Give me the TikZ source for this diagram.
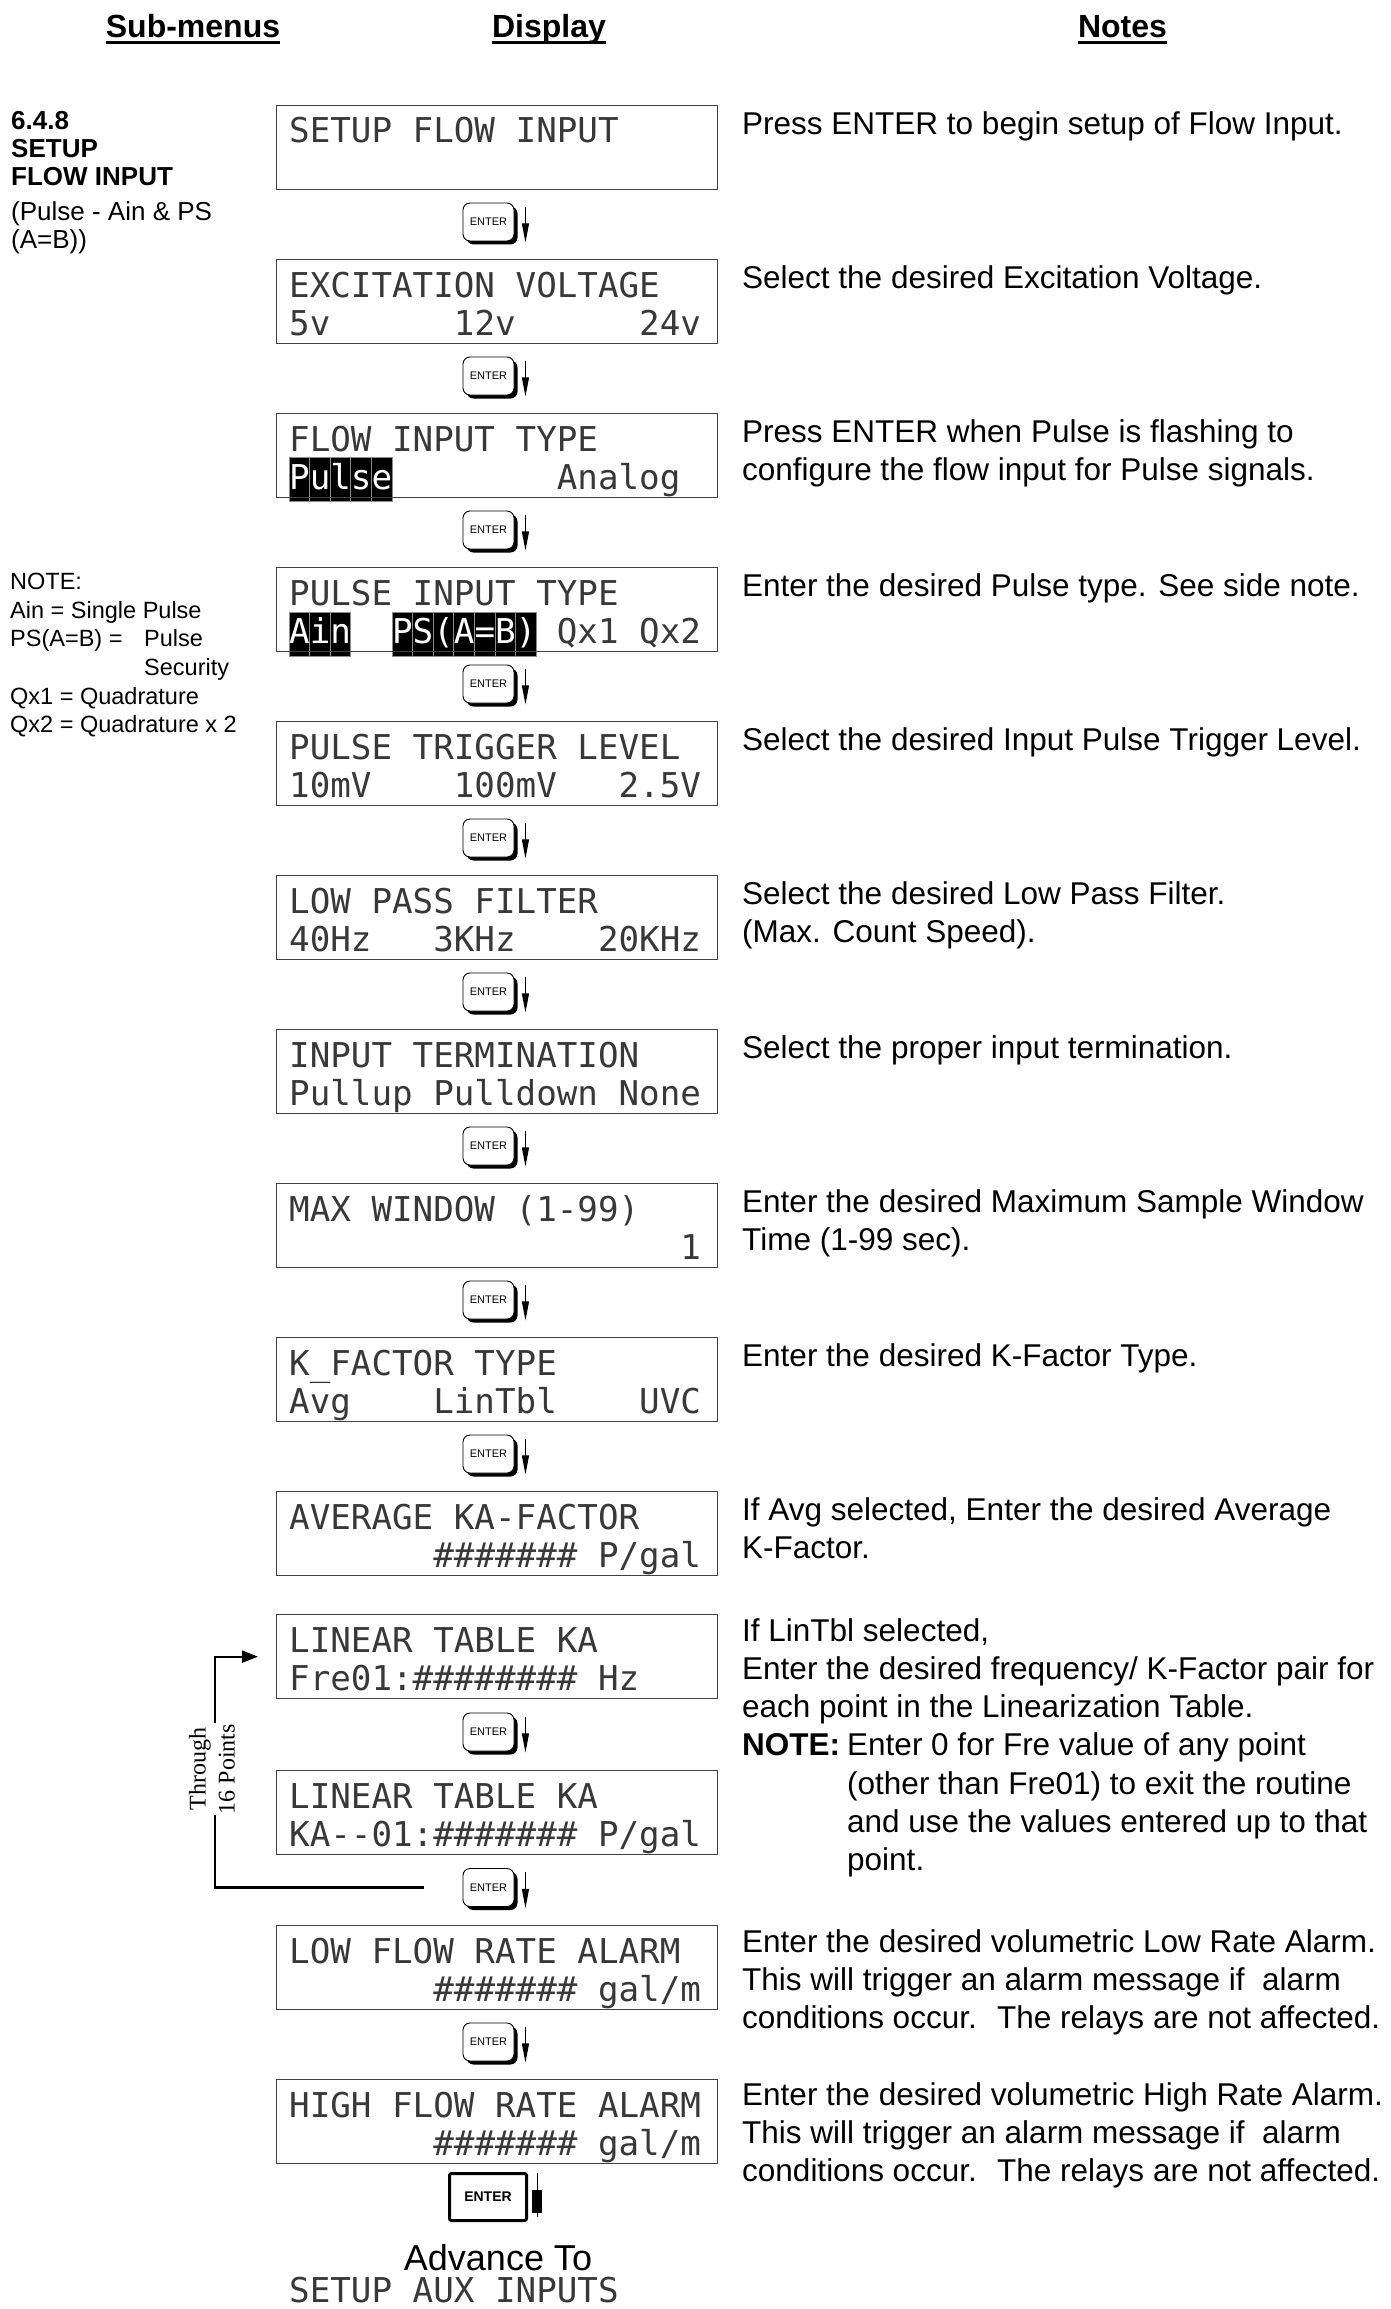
\documentclass[tikz,border=0pt]{standalone}
\usepackage{fontspec}
\setmainfont{Liberation Sans}
\newfontfamily\lcdfont{DejaVu Sans Mono}
\newfontfamily\pointsfont{Liberation Serif}
\usetikzlibrary{arrows.meta,shadows}

\tikzset{
  screen/.style={draw=black!75, line width=1.3pt, anchor=north west,
                 minimum width=441pt, minimum height=84pt, inner sep=0pt},
  lcd/.style={anchor=base west, inner sep=0pt, text=black!78,
              font=\lcdfont\fontsize{34.2}{38}\selectfont},
  cell/.style={fill=black, draw=black!45, line width=0.8pt},
  key/.style={draw, fill=white, line width=0.9pt, rounded corners=7pt,
              minimum width=51pt, minimum height=38pt, inner sep=0pt,
              font=\fontsize{11}{11}\selectfont,
              general shadow={fill=black, shadow xshift=3.5pt, shadow yshift=-3.5pt}},
  keyarrow/.style={line width=1.1pt, -{Triangle[length=19pt,width=7pt]}},
  backarrow/.style={line width=2.2pt, -{Triangle[length=16pt,width=12pt]}},
  note/.style={anchor=north west, inner sep=0pt, align=left,
               font=\fontsize{31.5}{38.3}\selectfont},
  side/.style={anchor=north west, inner sep=0pt, align=left,
               font=\fontsize{23.5}{28.6}\selectfont},
  head/.style={anchor=base, inner sep=0pt, font=\bfseries\fontsize{32}{36}\selectfont}
}

% display box with its two rows: name, top edge, row 1, row 2
\newcommand\lcdscreen[4]{%
  \node[screen] (#1) at (276,#2) {};
  \node[lcd] (#1a) at ([xshift=13pt,yshift=-38pt]#1.north west) {#3};
  \node[lcd] (#1b) at ([xshift=13pt,yshift=-76pt]#1.north west) {#4};
}
% enter key with its arrow: name, centre of the key
\newcommand\enterkey[2]{%
  \node[key] (#1) at (488.5,#2) {ENTER};
  \draw[keyarrow] ([xshift=11pt,yshift=-4pt]#1.north east) -- ([xshift=11pt,yshift=-1pt]#1.south east);
}

\begin{document}
\begin{tikzpicture}[x=1pt,y=-1pt]
 \useasboundingbox (0,0) rectangle (1391,2309);
 % column heads
 \node[head] (h1) at (193,38) {Sub-menus};
 \node[head] (h2) at (549,38) {Display};
 \node[head] (h3) at (1122.5,38) {Notes};
 \foreach \h in {h1,h2,h3}
   \draw[line width=2.7pt] ([yshift=-4.3pt]\h.base west) -- ([yshift=-4.3pt]\h.base east);

 % sub-menu column
 \node[side, font=\fontsize{26}{28.1}\selectfont] (menu) at (11,110.7)
   {\textbf{6.4.8}\\\textbf{SETUP}\\\textbf{FLOW INPUT}\\[7pt](Pulse - Ain \& PS\\(A=B))};
 \node[side] (sidenote) at (10,573) {NOTE:\\Ain = Single Pulse\\
   \makebox[134pt][l]{PS(A=B) =}Pulse\\\hspace*{134pt}Security\\
   Qx1 = Quadrature\\Qx2 = Quadrature x 2};

 % highlighted cells
 \foreach \c in {0,...,4} \filldraw[cell] (289+20.6*\c,457) rectangle +(20.6,44);
 \foreach \c in {0,1,2,5,6,...,11} \filldraw[cell] (289+20.6*\c,612) rectangle +(20.6,44);

 % displays
 \lcdscreen{s1}{105}{SETUP FLOW INPUT}{}
 \lcdscreen{s2}{259}{EXCITATION VOLTAGE}{5v~~~~~~12v~~~~~~24v}
 \lcdscreen{s3}{413}{FLOW INPUT TYPE}{\textcolor{white}{Pulse}~~~~~~~~Analog}
 \lcdscreen{s4}{567}{PULSE INPUT TYPE}{\textcolor{white}{Ain}~~\textcolor{white}{PS(A=B)} Qx1 Qx2}
 \lcdscreen{s5}{721}{PULSE TRIGGER LEVEL}{10mV~~~~100mV~~~2.5V}
 \lcdscreen{s6}{875}{LOW PASS FILTER}{40Hz~~~3KHz~~~~20KHz}
 \lcdscreen{s7}{1029}{INPUT TERMINATION}{Pullup Pulldown None}
 \lcdscreen{s8}{1183}{MAX WINDOW (1-99)}{~~~~~~~~~~~~~~~~~~~1}
 \lcdscreen{s9}{1337}{K\_FACTOR TYPE}{Avg~~~~LinTbl~~~~UVC}
 \lcdscreen{s10}{1491}{AVERAGE KA-FACTOR}{~~~~~~~\#\#\#\#\#\#\# P/gal}
 \lcdscreen{s11}{1614}{LINEAR TABLE KA}{Fre01:\#\#\#\#\#\#\#\# Hz}
 \lcdscreen{s12}{1770}{LINEAR TABLE KA}{KA-{}-01:\#\#\#\#\#\#\# P/gal}
 \lcdscreen{s13}{1925}{LOW FLOW RATE ALARM}{~~~~~~~\#\#\#\#\#\#\# gal/m}
 \lcdscreen{s14}{2079}{HIGH FLOW RATE ALARM}{~~~~~~~\#\#\#\#\#\#\# gal/m}

 % enter keys
 \foreach \k/\y in {k1/222,k2/376,k3/530,k4/684,k5/838,k6/992,k7/1146,k8/1300,
                    k9/1454,k11/1732,k12/1887.5,k13/2042}
   {\enterkey{\k}{\y}}

 % repeat loop for the table points
 \draw[backarrow] ([xshift=-39pt]k12.west) -| ([xshift=-61pt]s11.west) -- ([xshift=-18pt]s11.west);
 \node[rotate=90, fill=white, inner sep=1pt, align=center,
       font=\pointsfont\fontsize{24}{29}\selectfont] (thru) at (212,1769) {Through\\16 Points};

 % last key and exit
 \node[draw, line width=3pt, rounded corners=2pt, minimum width=77pt, minimum height=47pt,
       inner sep=0pt, font=\bfseries\fontsize{14}{14}\selectfont] (kend) at (488,2197) {ENTER};
 \draw[line width=1pt] ([xshift=9pt,yshift=-1pt]kend.north east) -- ([xshift=9pt,yshift=5pt]kend.south east);
 \fill ([xshift=4pt,yshift=-18pt]kend.north east) rectangle ([xshift=14pt,yshift=-41pt]kend.north east);
 \node[anchor=base, inner sep=0pt, font=\fontsize{36}{40}\selectfont] (adv) at (498,2270) {Advance To};
 \node[lcd] (aux) at (289,2302) {SETUP AUX INPUTS};

 % notes
 \node[note] (n1) at (742,111) {Press ENTER to begin setup of Flow Input.};
 \node[note] (n2) at (742,265) {Select the desired Excitation Voltage.};
 \node[note] (n3) at (742,419) {Press ENTER when Pulse is flashing to\\configure the flow input for Pulse signals.};
 \node[note] (n4) at (742,573) {Enter the desired Pulse type. See side note.};
 \node[note] (n5) at (742,727) {Select the desired Input Pulse Trigger Level.};
 \node[note] (n6) at (742,881) {Select the desired Low Pass Filter.\\(Max. Count Speed).};
 \node[note] (n7) at (742,1035) {Select the proper input termination.};
 \node[note] (n8) at (742,1189) {Enter the desired Maximum Sample Window\\Time (1-99 sec).};
 \node[note] (n9) at (742,1343) {Enter the desired K-Factor Type.};
 \node[note] (n10) at (742,1497) {If Avg selected, Enter the desired Average\\K-Factor.};
 \node[note] (n11) at (742,1618) {If LinTbl selected,\\Enter the desired frequency/ K-Factor pair for\\
   each point in the Linearization Table.\\\makebox[105pt][l]{\textbf{NOTE:}}Enter 0 for Fre value of any point\\
   \hspace*{105pt}(other than Fre01) to exit the routine\\\hspace*{105pt}and use the values entered up to that\\
   \hspace*{105pt}point.};
 \node[note] (n13) at (742,1929) {Enter the desired volumetric Low Rate Alarm.\\
   This will trigger an alarm message if~ alarm\\conditions occur.~ The relays are not affected.};
 \node[note] (n14) at (742,2082) {Enter the desired volumetric High Rate Alarm.\\
   This will trigger an alarm message if~ alarm\\conditions occur.~ The relays are not affected.};
\end{tikzpicture}
\end{document}
